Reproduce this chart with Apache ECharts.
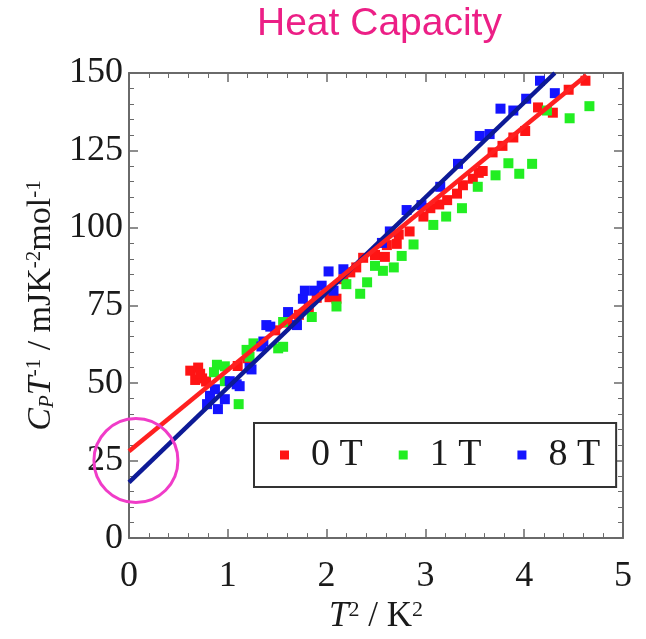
<!DOCTYPE html>
<html>
<head>
<meta charset="utf-8">
<script src="https://cdn.jsdelivr.net/npm/echarts@6/dist/echarts.min.js"></script>
<style>
  html, body { margin: 0; padding: 0; background: #fff; }
  #main { width: 646px; height: 639px; }
</style>
</head>
<body>
<div id="main"></div>
<script type="text/javascript">
// tick labels
var xTicks = [0, 1, 2, 3, 4, 5];
var yTicks = [0, 25, 50, 75, 100, 125, 150];

// 0 T (red), [T^2, CpT^-1]
var red0T = [
  [0.62, 54.0], [0.70, 55.0], [0.67, 51.0], [0.74, 51.5], [0.72, 53.0], [0.78, 50.5],
  [1.10, 55.5], [1.20, 58.0], [1.48, 67.0], [1.60, 69.5], [1.72, 72.0], [1.82, 74.5],
  [1.90, 77.5], [2.03, 77.7], [2.10, 77.2], [2.17, 83.5], [2.24, 85.7], [2.30, 87.3],
  [2.37, 90.4], [2.49, 91.3], [2.59, 90.7], [2.61, 94.5], [2.71, 94.9], [2.73, 97.9],
  [2.84, 98.9], [2.98, 103.7], [3.05, 106.4], [3.14, 107.6], [3.22, 109.0], [3.32, 111.1],
  [3.38, 113.8], [3.48, 115.9], [3.54, 117.8], [3.58, 118.4], [3.68, 124.4], [3.78, 126.5],
  [3.89, 129.2], [4.01, 131.3], [4.14, 138.9], [4.29, 137.2], [4.45, 144.6], [4.62, 147.5]
];

// 1 T (green)
var green1T = [
  [0.89, 55.9], [0.97, 55.4], [0.86, 53.5], [0.97, 50.6], [1.11, 43.2], [1.19, 60.7],
  [1.26, 62.8], [1.22, 58.5], [1.51, 61.2], [1.56, 61.7], [1.56, 69.7], [1.85, 71.3],
  [2.10, 74.7], [2.20, 81.9], [2.34, 78.8], [2.41, 82.5], [2.49, 87.8], [2.57, 86.2],
  [2.68, 87.3], [2.76, 91.0], [2.88, 94.7], [3.08, 101.0], [3.21, 103.7], [3.37, 106.4],
  [3.53, 113.3], [3.71, 117.0], [3.84, 120.9], [3.95, 117.5], [4.08, 120.7], [4.23, 137.9],
  [4.46, 135.4], [4.66, 139.3]
];

// 8 T (blue)
var blue8T = [
  [0.79, 43.2], [0.82, 45.9], [0.87, 48.0], [0.90, 41.6], [0.97, 44.8], [1.02, 50.6],
  [1.09, 49.6], [1.12, 49.0], [1.22, 54.9], [1.24, 54.4], [1.34, 61.8], [1.36, 63.4],
  [1.39, 68.7], [1.43, 68.2], [1.61, 72.9], [1.70, 68.7], [1.76, 77.2], [1.78, 79.8],
  [1.88, 79.8], [1.95, 81.4], [2.02, 86.0], [2.07, 79.8], [2.17, 86.7], [2.56, 95.2],
  [2.64, 98.9], [2.81, 105.8], [2.96, 107.4], [3.15, 113.3], [3.33, 120.7], [3.55, 129.7],
  [3.65, 130.3], [3.76, 138.5], [3.89, 137.9], [4.02, 141.7], [4.16, 147.5], [4.31, 143.5]
];

// linear fits (end points)
var fit0T = [[0, 28.0], [4.63, 149.3]];
var fit8T = [[0, 18.0], [4.31, 150.0]];

var serif = '"Liberation Serif", "Times New Roman", serif';
var axisGray = '#6a6a6a';

var chart = echarts.init(document.getElementById('main'));

function frameAxis(pos, isX) {
  return {
    type: 'value',
    position: pos,
    min: isX ? xTicks[0] : yTicks[0],
    max: isX ? xTicks[xTicks.length - 1] : yTicks[yTicks.length - 1],
    interval: isX ? 1 : 25,
    axisLine: { show: true, onZero: false, lineStyle: { color: axisGray, width: 2 } },
    axisTick: { show: true, inside: true, length: 9, lineStyle: { color: axisGray, width: 1.5 } },
    minorTick: { show: true, splitNumber: 5, length: 5, lineStyle: { color: axisGray, width: 1 } },
    axisLabel: { show: false },
    splitLine: { show: false }
  };
}

var xBottom = frameAxis('bottom', true);
xBottom.axisLabel = { show: true, fontFamily: serif, fontSize: 36, color: '#1a1a1a', margin: 20 };
xBottom.name = '{i|T}{sup|2}{n| / K}{sup|2}';
xBottom.nameLocation = 'middle';
xBottom.nameGap = 56;
xBottom.nameTextStyle = {
  rich: {
    i: { fontFamily: serif, fontStyle: 'italic', fontSize: 35, color: '#1a1a1a' },
    n: { fontFamily: serif, fontSize: 35, color: '#1a1a1a' },
    sup: { fontFamily: serif, fontSize: 22, color: '#1a1a1a', verticalAlign: 'top' }
  }
};

var yLeft = frameAxis('left', false);
yLeft.axisLabel = { show: true, fontFamily: serif, fontSize: 36, color: '#1a1a1a', margin: 6 };
yLeft.name = '{i|C}{sub|P}{i|T}{sup|-1}{n| / mJK}{sup|-2}{n|mol}{sup|-1}';
yLeft.nameLocation = 'middle';
yLeft.nameRotate = 90;
yLeft.nameGap = 70;
yLeft.nameTextStyle = {
  rich: {
    i: { fontFamily: serif, fontStyle: 'italic', fontSize: 34, color: '#1a1a1a' },
    n: { fontFamily: serif, fontSize: 34, color: '#1a1a1a' },
    sup: { fontFamily: serif, fontSize: 21, color: '#1a1a1a', verticalAlign: 'top' },
    sub: { fontFamily: serif, fontStyle: 'italic', fontSize: 21, color: '#1a1a1a', verticalAlign: 'bottom' }
  }
};

var option = {
  animation: false,
  backgroundColor: '#ffffff',
  title: {
    text: 'Heat Capacity',
    left: 257,
    top: 5,
    padding: 0,
    textStyle: { fontFamily: '"Liberation Sans", Arial, sans-serif', fontSize: 39, fontWeight: 'normal', color: '#ec1f86' }
  },
  grid: { left: 129, right: 23, top: 73, bottom: 95 },
  legend: {
    data: ['0 T', '1 T', '8 T'],
    left: 254,
    top: 423,
    orient: 'horizontal',
    backgroundColor: '#fff',
    borderColor: '#333',
    borderWidth: 2,
    padding: [13, 16, 13, 26],
    itemWidth: 9,
    itemHeight: 9,
    itemGap: 36,
    icon: 'rect',
    textStyle: { fontFamily: serif, fontSize: 38, color: '#1a1a1a', padding: [0, 0, 0, 17] }
  },
  xAxis: [xBottom, frameAxis('top', true)],
  yAxis: [yLeft, frameAxis('right', false)],
  series: [
    { name: '0 T', type: 'scatter', symbol: 'rect', symbolSize: 10, data: red0T, itemStyle: { color: '#ff1414', opacity: 1 }, z: 2 },
    { name: '1 T', type: 'scatter', symbol: 'rect', symbolSize: 10, data: green1T, itemStyle: { color: '#22ee22', opacity: 1 }, z: 2 },
    { name: '8 T', type: 'scatter', symbol: 'rect', symbolSize: 10, data: blue8T, itemStyle: { color: '#1414ff', opacity: 1 }, z: 2 },
    { name: 'fit 8 T', type: 'line', data: fit8T, showSymbol: false, symbol: 'none', lineStyle: { color: '#0d1a96', width: 4.5 }, z: 3 },
    { name: 'fit 0 T', type: 'line', data: fit0T, showSymbol: false, symbol: 'none', lineStyle: { color: '#ff2020', width: 4.5 }, z: 4 }
  ]
};

chart.setOption(option);

// magenta circle around the intercept
var c = chart.convertToPixel({ xAxisIndex: 0, yAxisIndex: 0 }, [0.07, 25]);
chart.setOption({
  graphic: [{
    type: 'circle',
    shape: { cx: c[0], cy: c[1], r: 42 },
    style: { fill: null, stroke: '#f03cc8', lineWidth: 3 },
    z: 100
  }]
});
</script>
</body>
</html>
